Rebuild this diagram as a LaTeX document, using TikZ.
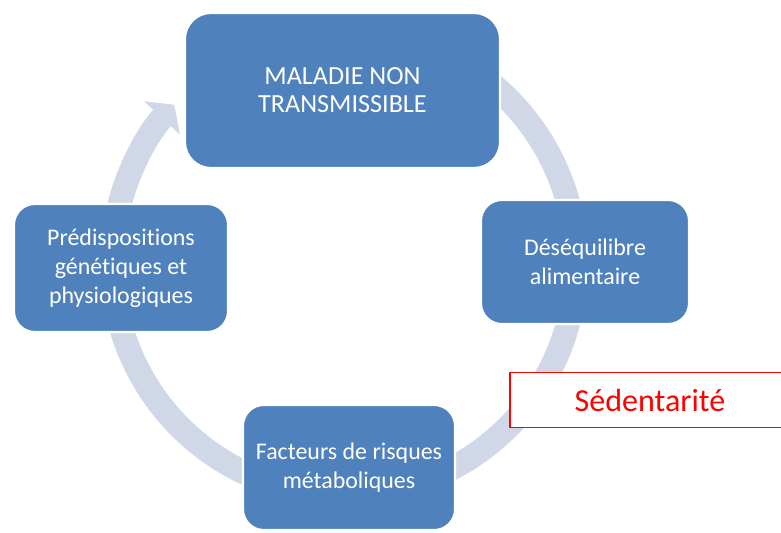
\documentclass[tikz,border=0pt]{standalone}
\usepackage{fontspec}
\setmainfont{Carlito}[Ligatures=NoCommon]
\usetikzlibrary{arrows.meta}
\definecolor{boxblue}{HTML}{4F81BD}
\definecolor{ringgray}{HTML}{D0D8E8}

\begin{document}
\begin{tikzpicture}[
    cyclebox/.style={draw=white, line width=1.5pt, fill=boxblue, text=white, rounded corners=0.52cm, align=center, font=\fontsize{17}{20.5}\selectfont, inner sep=0pt},
    cyclering/.style={ringgray, line width=0.6cm, -{Triangle[width=1.2cm,length=0.45cm]}}
    ]
    \useasboundingbox (0,0) rectangle (19.525,13.3);

    % Cycle ring behind the boxes
    \coordinate (centre) at (8.6,6.725);
    \draw[cyclering] (centre) ++(75:5.8) arc[start angle=75, end angle=-223, radius=5.8];

    % Boxes of the cycle
    \node[cyclebox, minimum width=7.875cm, minimum height=3.875cm, rounded corners=0.65cm, font=\fontsize{18.6}{20}\selectfont] (maladie) at (8.5625,11.0375) {MALADIE NON\\TRANSMISSIBLE};
    \node[cyclebox, minimum width=5.2cm, minimum height=3.1cm] (desequilibre) at (14.625,6.75) {Déséquilibre\\alimentaire};
    \node[cyclebox, minimum width=5.3cm, minimum height=3.125cm] (facteurs) at (8.725,1.6125) {Facteurs de risques\\métaboliques};
    \node[cyclebox, minimum width=5.35cm, minimum height=3.2cm] (predisp) at (3.025,6.6) {Prédispositions\\génétiques et\\physiologiques};

    % Added factor
    \node[draw=red, fill=white, line width=0.8pt, text=red, minimum width=7cm, minimum height=1.375cm, font=\fontsize{22.8}{27}\selectfont] (sedentarite) at (16.25,3.3) {Sédentarité};
\end{tikzpicture}
\end{document}
